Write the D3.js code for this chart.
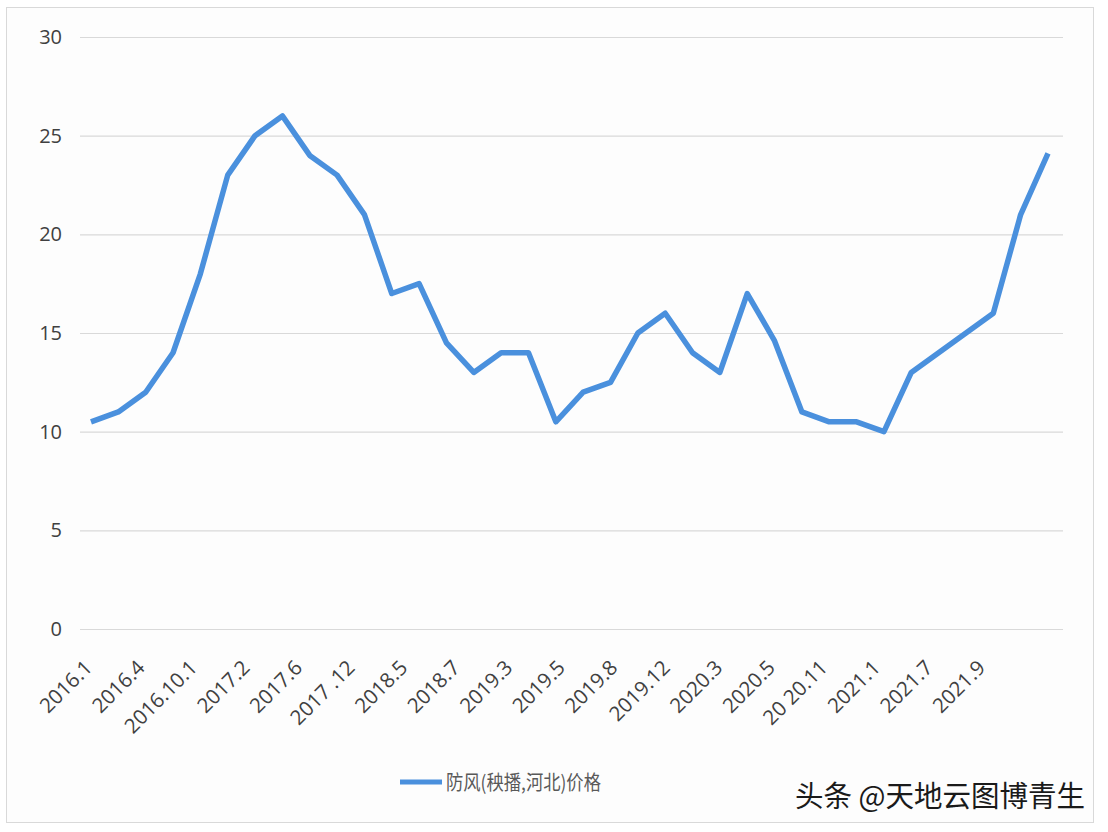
<!DOCTYPE html>
<html lang="zh">
<head>
<meta charset="utf-8">
<script src="https://cdnjs.cloudflare.com/ajax/libs/d3/7.8.5/d3.min.js"></script>
<style>
  body { margin: 0; background: #ffffff; }
  svg { display: block; }
  .tick text { font-family: "Open Sans", "Noto Sans", sans-serif; fill: #404040; }
</style>
</head>
<body>
<svg id="chart"></svg>
<script>
// price series, one value per sample (36 samples)
var prices = [10.5, 11, 12, 14, 18, 23, 25, 26, 24, 23, 21, 17, 17.5, 14.5, 13, 14, 14, 10.5,
              12, 12.5, 15, 16, 14, 13, 17, 14.6, 11, 10.5, 10.5, 10, 13, 14, 15, 16, 21, 24.1];
// axis labels shown under the chart
var xLabels = ["2016.1", "2016.4", "2016.10.1", "2017.2", "2017.6", "2017 .12", "2018.5", "2018.7", "2019.3",
               "2019.5", "2019.8", "2019.12", "2020.3", "2020.5", "20 20.11", "2021.1", "2021.7", "2021.9"];
var yTicks = [0, 5, 10, 15, 20, 25, 30];
var seriesName = "防风(秧播,河北)价格";
var watermark = "头条 @天地云图博青生";

var width = 1108, height = 832;
var svg = d3.select("#chart").attr("width", width).attr("height", height);

// outer frame
svg.append("rect")
  .attr("x", 6.5).attr("y", 7.5)
  .attr("width", 1087).attr("height", 815)
  .attr("fill", "#fdfdfd")
  .attr("stroke", "#d9d9d9");

var y = d3.scaleLinear().domain([0, 30]).range([629, 37]);
var x = d3.scalePoint().domain(d3.range(prices.length)).range([91, 1048]);
var xl = d3.scalePoint().domain(xLabels).range([93, 986]);

// horizontal grid + y labels
var yAxis = svg.append("g")
  .attr("transform", "translate(80,0)")
  .call(d3.axisLeft(y).tickValues(yTicks).tickSize(-983).tickPadding(18));
yAxis.select(".domain").remove();
yAxis.selectAll(".tick line").attr("stroke", "#d9d9d9").attr("stroke-width", 1.2);
yAxis.selectAll(".tick text").attr("font-size", 20).attr("fill", "#4a4a4a");

// x labels, rotated
var xAxis = svg.append("g")
  .attr("transform", "translate(0,640)")
  .call(d3.axisBottom(xl).tickSize(0).tickPadding(0));
xAxis.select(".domain").remove();
xAxis.selectAll(".tick text")
  .attr("font-size", 20.5)
  .attr("text-anchor", "end")
  .attr("dy", 0)
  .attr("transform", "translate(0,29) rotate(-45)");

// line
var line = d3.line()
  .x(function(d, i) { return x(i); })
  .y(function(d) { return y(d); });

svg.append("path")
  .datum(prices)
  .attr("d", line)
  .attr("fill", "none")
  .attr("stroke", "#4a90dd")
  .attr("stroke-width", 5.5)
  .attr("stroke-linejoin", "round");

// legend
var legend = svg.append("g");
legend.append("line")
  .attr("x1", 400).attr("x2", 442)
  .attr("y1", 782).attr("y2", 782)
  .attr("stroke", "#4a90dd")
  .attr("stroke-width", 5);
legend.append("text")
  .attr("x", 446).attr("y", 790)
  .attr("font-family", "'Noto Sans CJK SC', sans-serif")
  .attr("font-size", 20)
  .attr("textLength", 155)
  .attr("lengthAdjust", "spacingAndGlyphs")
  .attr("fill", "#595959")
  .text(seriesName);

// watermark
svg.append("text")
  .attr("x", 795).attr("y", 807)
  .attr("font-family", "'Noto Sans CJK SC', sans-serif")
  .attr("font-size", 29)
  .attr("textLength", 290)
  .attr("lengthAdjust", "spacingAndGlyphs")
  .attr("fill", "#1a1a1a")
  .text(watermark);
</script>
</body>
</html>
